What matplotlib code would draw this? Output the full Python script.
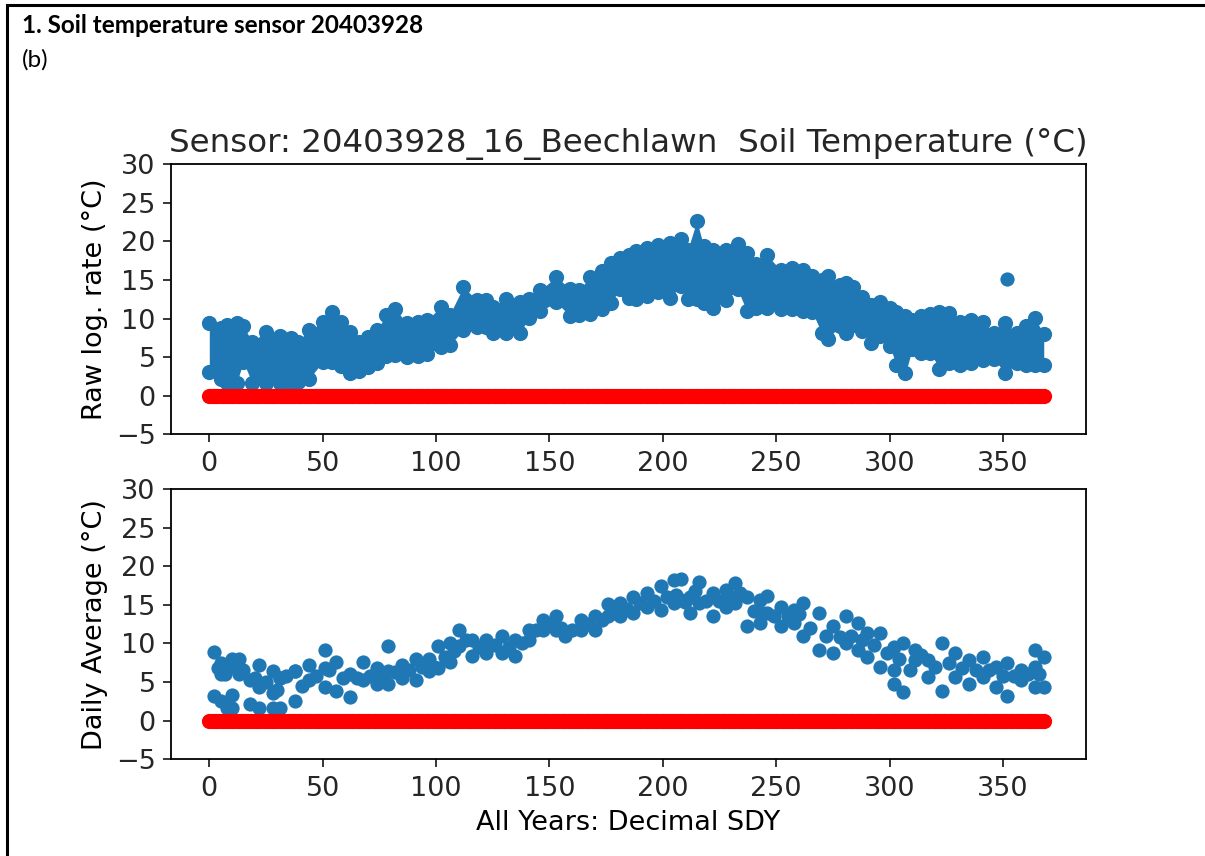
import numpy as np
import matplotlib.pyplot as plt
from matplotlib.patches import Rectangle

# Datos (valores aproximados)
titulo_doc = "1. Soil temperature sensor 20403928"
sub_doc = "(b)"
titulo = "Sensor: 20403928_16_Beechlawn  Soil Temperature (°C)"

# Panel superior: envolvente de los registros crudos (mín / máx por día)
raw_days = [0, 5, 8, 12, 15, 19, 25, 31, 36, 39, 44, 50, 54, 58, 62, 66, 70, 74, 78,
            82, 87, 92, 96, 102, 106, 112, 118, 122, 125, 131, 137, 141, 146, 153, 159,
            163, 168, 173, 177, 181, 185, 188, 193, 198, 203, 208, 211, 215, 218, 222,
            228, 233, 237, 241, 246, 252, 257, 262, 266, 270, 273, 278, 281, 284, 288,
            292, 296, 300, 303, 307, 310, 314, 318, 322, 326, 331, 336, 341, 346, 351,
            356, 360, 364, 368]
raw_high = [9.4, 8.8, 9.2, 9.4, 9.0, 7.0, 8.3, 7.8, 7.5, 7.0, 8.5, 9.5, 10.9, 9.5, 8.3,
            7.0, 7.6, 8.5, 10.5, 11.3, 9.4, 9.6, 9.8, 11.5, 10.5, 14.1, 12.4, 12.4, 11.5,
            12.6, 12.2, 12.6, 13.7, 15.4, 13.9, 13.7, 15.4, 16.2, 17.2, 17.8, 18.3, 18.8,
            19.2, 19.5, 19.8, 20.3, 18.9, 22.7, 19.4, 18.9, 18.9, 19.7, 18.5, 17.1, 18.2,
            16.3, 16.5, 16.3, 15.5, 15.0, 15.5, 14.3, 14.6, 14.1, 12.8, 11.8, 12.2, 11.4,
            10.9, 10.4, 9.8, 10.4, 10.6, 10.9, 10.7, 9.6, 9.8, 9.5, 8.2, 9.4, 8.2, 9.1,
            10.1, 8.0]
raw_low = [3.1, 2.2, 1.6, 1.6, 4.4, 1.6, 1.6, 1.6, 1.6, 1.8, 2.2, 4.4, 4.4, 3.8, 2.9,
           3.2, 3.7, 4.3, 5.1, 5.3, 5.0, 5.1, 5.4, 6.3, 6.6, 8.5, 8.9, 8.9, 8.2, 8.2,
           8.2, 10.1, 11.0, 12.1, 10.4, 10.5, 10.6, 11.3, 12.0, 13.8, 12.7, 12.6, 12.9,
           13.4, 12.7, 14.2, 12.5, 12.5, 12.0, 11.4, 12.4, 13.8, 11.0, 11.4, 11.4, 11.2,
           11.2, 11.0, 10.8, 8.2, 7.4, 9.1, 8.2, 9.2, 8.4, 6.9, 7.7, 6.5, 4.0, 2.9, 6.1,
           5.6, 5.6, 3.5, 4.2, 4.0, 4.2, 4.6, 4.8, 2.9, 4.2, 4.0, 4.0, 4.0]
raw_outlier_day = [352]
raw_outlier_val = [15.1]

# Panel inferior: promedios diarios (años superpuestos)
avg_days = [2, 5, 8, 10, 13, 18, 22, 28, 31, 38, 44, 51, 56, 62, 68, 74, 79, 85, 91,
            97, 101, 106, 110, 116, 122, 129, 135, 141, 147, 153, 157, 164, 170, 176,
            181, 187, 193, 199, 205, 208, 212, 216, 222, 228, 232, 237, 243, 246, 252,
            258, 262, 269, 275, 281, 286, 290, 296, 302, 306, 311, 317, 323, 329, 335,
            341, 347, 352, 358, 364, 368]
avg_high = [8.9, 7.5, 7.2, 8.0, 8.0, 5.2, 7.2, 6.4, 5.5, 6.4, 7.2, 9.2, 7.6, 6.0, 7.6,
            6.8, 9.7, 7.2, 8.0, 8.0, 9.7, 10.1, 11.8, 10.5, 10.5, 10.9, 10.5, 11.8, 13.0,
            13.5, 10.9, 13.0, 13.5, 15.1, 15.2, 16.0, 16.5, 17.4, 18.2, 18.4, 16.0, 18.0,
            16.5, 16.9, 17.8, 16.0, 15.6, 16.2, 14.7, 14.3, 15.2, 13.9, 12.2, 13.5, 12.6,
            11.3, 11.3, 9.5, 10.0, 9.1, 7.8, 10.0, 8.7, 7.8, 8.2, 7.0, 7.4, 6.5, 9.1, 8.2]
avg_low = [3.2, 6.0, 2.2, 3.3, 6.0, 2.2, 4.3, 3.6, 1.7, 2.5, 5.2, 6.8, 3.9, 3.1, 5.2,
           4.8, 6.4, 5.5, 5.2, 6.4, 6.8, 7.6, 9.7, 8.4, 8.8, 8.8, 8.4, 10.5, 11.8, 11.8,
           11.2, 11.8, 11.8, 13.5, 13.5, 13.9, 14.7, 14.3, 15.2, 15.6, 13.9, 15.2, 13.5,
           14.7, 15.2, 12.2, 12.6, 13.9, 12.2, 12.6, 10.9, 9.1, 8.7, 10.0, 9.1, 8.2, 7.0,
           4.8, 3.7, 7.8, 5.6, 3.9, 5.6, 4.8, 5.6, 4.3, 3.2, 5.2, 4.3, 4.3]
avg_mid_days = [4, 7, 11, 15, 20, 25, 30, 34, 41, 47, 53, 59, 65, 71, 76, 82, 88, 94,
                99, 104, 108, 113, 119, 126, 132, 138, 144, 150, 155, 160, 167, 173, 179,
                184, 190, 196, 202, 206, 210, 214, 219, 225, 230, 234, 240, 244, 249, 255,
                260, 265, 272, 278, 283, 288, 293, 299, 304, 309, 314, 320, 326, 332, 338,
                344, 350, 355, 361, 366]
avg_mid = [6.8, 6.0, 7.0, 6.5, 5.5, 5.0, 4.0, 5.8, 4.5, 5.8, 6.5, 5.5, 5.5, 5.8, 6.0,
           6.3, 6.5, 7.0, 7.0, 8.2, 9.0, 10.5, 9.5, 9.8, 9.5, 10.0, 11.8, 12.5, 12.0,
           11.8, 12.5, 13.0, 14.0, 14.5, 15.2, 15.5, 16.0, 16.3, 15.3, 16.8, 15.5, 15.5,
           16.0, 16.5, 14.2, 14.0, 13.5, 13.5, 13.8, 12.0, 11.0, 10.8, 11.0, 10.5, 9.8,
           8.8, 8.0, 6.5, 8.5, 7.0, 7.5, 6.8, 6.5, 6.5, 5.8, 5.8, 6.0, 6.0]
avg_extra_days = [5, 8, 10, 22, 28, 31, 38, 51, 79, 302, 364]
avg_extra_vals = [2.6, 1.7, 1.7, 1.7, 1.7, 5.5, 6.4, 4.3, 4.8, 6.5, 7.0]

# Días con marca de cero (línea roja)
zero_days = np.arange(0, 369)
zero_vals = np.zeros(len(zero_days))

azul = '#1f77b4'
plt.rcParams['font.family'] = 'DejaVu Sans'
plt.rcParams['font.size'] = 19.5
plt.rcParams['axes.linewidth'] = 1.3
plt.rcParams['xtick.major.size'] = 5.8
plt.rcParams['ytick.major.size'] = 5.8
plt.rcParams['xtick.major.width'] = 1.3
plt.rcParams['ytick.major.width'] = 1.3
plt.rcParams['xtick.major.pad'] = 6
plt.rcParams['ytick.major.pad'] = 5
plt.rcParams['axes.labelpad'] = 6
plt.rcParams['text.color'] = '#262626'
plt.rcParams['xtick.color'] = '#262626'
plt.rcParams['ytick.color'] = '#262626'

fig = plt.figure(figsize=(12.05, 8.56), dpi=100)

# Marco y encabezado del documento
fig.patches.append(Rectangle((7 / 1205, -0.1), 1.2, 1 - 5 / 856 + 0.1,
                             transform=fig.transFigure, fill=False,
                             edgecolor='black', linewidth=2.2))
fig.text(22 / 1205, 1 - 33 / 856, titulo_doc, fontsize=17.5, fontweight='bold',
         family='Lato', color='black')
fig.text(22 / 1205, 1 - 67 / 856, sub_doc, fontsize=17.5, family='Lato', color='black')

ax1 = fig.add_axes([0.1417, 0.4926, 0.7593, 0.3154])
ax2 = fig.add_axes([0.1417, 0.1130, 0.7593, 0.3158])

s_raw = 120
s_pt = 105

# Panel superior
ax1.fill_between(raw_days, raw_low, raw_high, color=azul, linewidth=0)
ax1.scatter(raw_days, raw_high, s=s_raw, color=azul, linewidths=0)
ax1.scatter(raw_days, raw_low, s=s_raw, color=azul, linewidths=0)
ax1.scatter(raw_outlier_day, raw_outlier_val, s=s_pt, color=azul, linewidths=0)
ax1.scatter(zero_days, zero_vals, s=s_raw, color='r', linewidths=0)
ax1.set_ylim(-5, 30)
ax1.set_xlim(-17, 386.5)
ax1.set_yticks([-5, 0, 5, 10, 15, 20, 25, 30])
ax1.set_xticks([0, 50, 100, 150, 200, 250, 300, 350])
ax1.set_ylabel('Raw log. rate (°C)')
ax1.set_title(titulo, fontsize=23.4, pad=9)

# Panel inferior
ax2.scatter(avg_days, avg_high, s=s_pt, color=azul, linewidths=0)
ax2.scatter(avg_days, avg_low, s=s_pt, color=azul, linewidths=0)
ax2.scatter(avg_mid_days, avg_mid, s=s_pt, color=azul, linewidths=0)
ax2.scatter(avg_extra_days, avg_extra_vals, s=s_pt, color=azul, linewidths=0)
ax2.scatter(zero_days, zero_vals, s=s_raw, color='r', linewidths=0)
ax2.set_ylim(-5, 30)
ax2.set_xlim(-17, 386.5)
ax2.set_yticks([-5, 0, 5, 10, 15, 20, 25, 30])
ax2.set_xticks([0, 50, 100, 150, 200, 250, 300, 350])
ax2.set_ylabel('Daily Average (°C)')
ax2.set_xlabel('All Years: Decimal SDY')

fig.savefig('out.png', dpi=100)
